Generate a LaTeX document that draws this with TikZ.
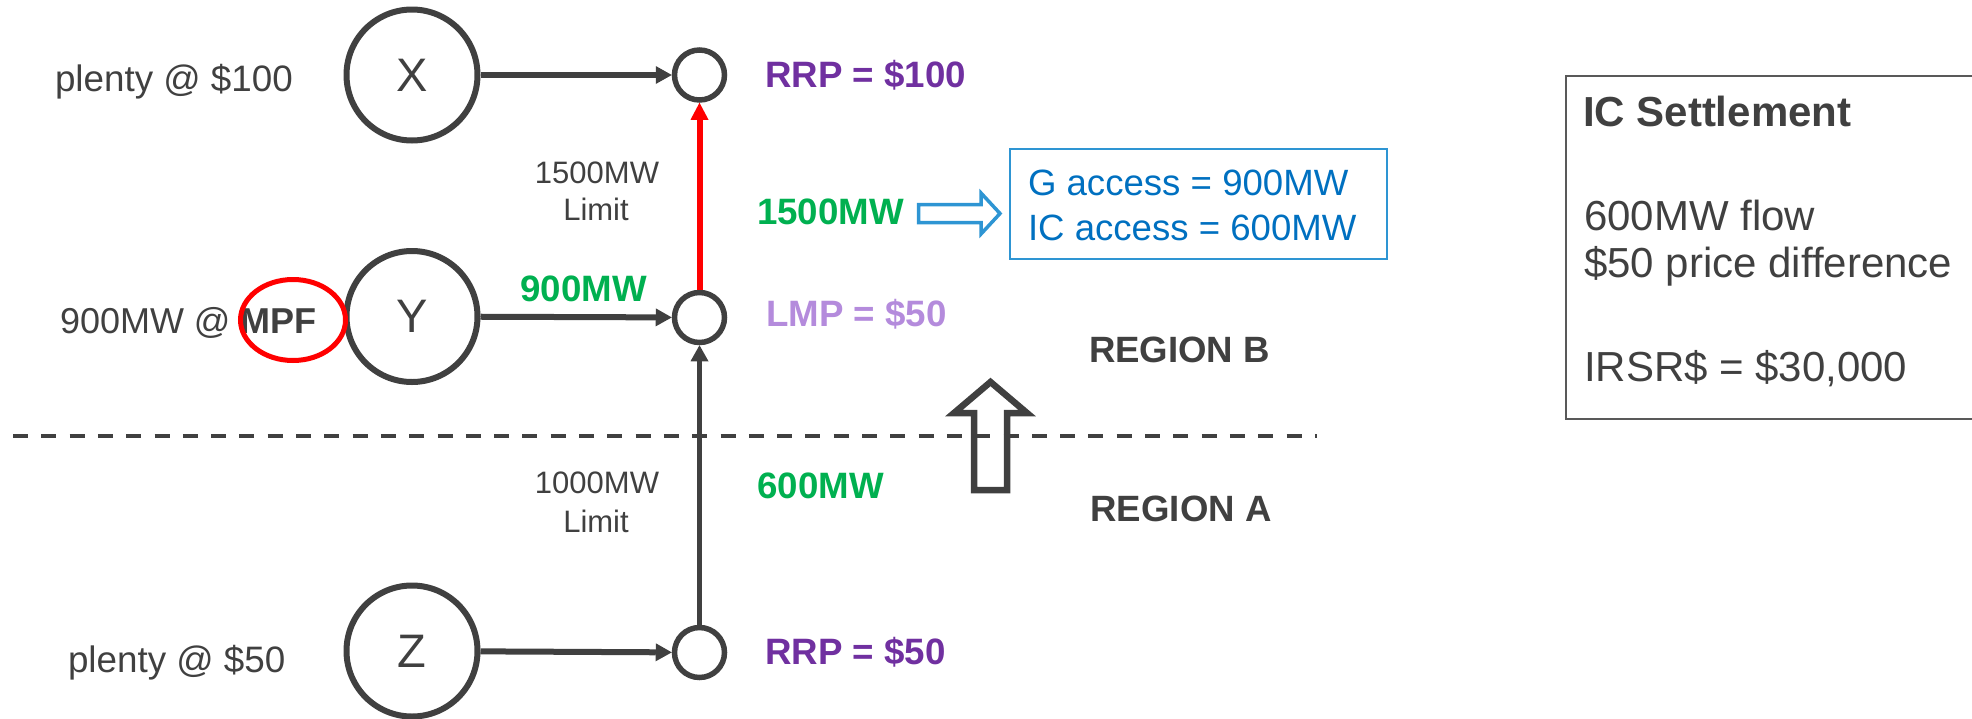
\documentclass[tikz,border=0pt]{standalone}
\usepackage{fontspec}
\setmainfont{Liberation Sans}
\usetikzlibrary{arrows.meta,shapes.geometric}
\definecolor{dkgray}{HTML}{404040}
\definecolor{flowgreen}{HTML}{00B050}
\definecolor{rrppurple}{HTML}{7030A0}
\definecolor{lmppurple}{HTML}{B48BDC}
\definecolor{txtblue}{HTML}{0070C0}
\definecolor{boxblue}{HTML}{2E95D3}
\definecolor{boxgray}{HTML}{595959}
\newcommand{\fsz}[1]{\fontsize{#1}{#1}\selectfont}
\begin{document}
\begin{tikzpicture}[x=1pt,y=-1pt,
  lbl/.style={inner sep=0pt, outer sep=0pt, text=dkgray},
  gen/.style={circle, draw=dkgray, line width=6pt, minimum size=131pt, inner sep=0pt, text=dkgray, font=\fsz{47}},
  bus/.style={circle, draw=dkgray, line width=5.5pt, minimum size=50pt, inner sep=0pt},
  flow/.style={draw=dkgray, line width=6pt, -{Triangle[length=16pt,width=18pt,line width=0pt]}},
  redflow/.style={draw=red, line width=6pt, -{Triangle[length=17pt,width=18pt,line width=0pt]}},
  price/.style={lbl, anchor=base west, font=\fsz{36.7}\bfseries},
  green/.style={lbl, anchor=base, text=flowgreen, font=\fsz{36.7}\bfseries},
  limit/.style={lbl, anchor=base, font=\fsz{31}},
  region/.style={lbl, anchor=base, font=\fsz{36.6}\bfseries},
  offer/.style={lbl, anchor=base west, font=\fsz{36.8}},
  acc/.style={lbl, anchor=base west, text=txtblue, font=\fsz{36.6}},
  settle/.style={lbl, anchor=base west, font=\fsz{42}}
]
\useasboundingbox (0,0) rectangle (1972,718);
\clip (0,0) rectangle (1972,718);

% region divider
\draw[dkgray, line width=4.5pt, dash pattern=on 15pt off 13.3pt] (13,436) -- (1317,436);

% generators
\node[gen] (X) at (412,75) {X};
\node[gen] (Y) at (412,316.5) {Y};
\node[gen] (Z) at (412,651) {Z};

% buses
\node[bus] (b1) at (699.5,75) {};
\node[bus] (b2) at (699.5,317.5) {};
\node[bus] (b3) at (699.5,652.5) {};

% flows
\draw[flow] (X) -- (b1);
\draw[flow] (Y) -- (b2);
\draw[flow] (Z) -- (b3);
\draw[redflow] (b2) -- (b1);
\draw[flow, line width=5pt] (b3) -- (b2);

% offers
\node[offer] (offX) at (55,91) {plenty @ \$100};
\node[offer, font=\fsz{36}] (offY) at (60,333) {900MW @ \textbf{MPF}};
\node[offer] (offZ) at (68,672.7) {plenty @ \$50};
\node[ellipse, draw=red, line width=5pt, minimum width=105pt, minimum height=81pt] (mpfring) at (293,320) {};

% prices
\node[price, text=rrppurple] (p1) at (765,87.3) {RRP = \$100};
\node[price, text=lmppurple] (p2) at (766,326) {LMP = \$50};
\node[price, text=rrppurple] (p3) at (765,664.3) {RRP = \$50};

% limits
\node[limit] (lim1a) at (597,183) {1500MW};
\node[limit] (lim1b) at (596,220.7) {Limit};
\node[limit] (lim2a) at (597,493.3) {1000MW};
\node[limit] (lim2b) at (596,532.7) {Limit};

% flow amounts
\node[green] (f900) at (583.5,301) {900MW};
\node[green] (f1500) at (830.5,224) {1500MW};
\node[green] (f600) at (820.5,498.3) {600MW};

% access box
\node[draw=boxblue, line width=2.2pt, minimum width=377pt, minimum height=110pt, inner sep=0pt] (accbox) at (1198.5,204) {};
\node[acc] (acc1) at (1028,195) {G access = 900MW};
\node[acc] (acc2) at (1028,240.7) {IC access = 600MW};
\draw[boxblue, line width=3.5pt, line join=miter]
  (918.5,204.5) -- (981,204.5) -- (981,193) -- (1000,213.5) -- (981,234) -- (981,222.5) -- (918.5,222.5) -- cycle;

% regions
\node[region] (regB) at (1179.5,362.3) {REGION B};
\node[region] (regA) at (1181,521.7) {REGION A};
\draw[dkgray, line width=6.5pt, line join=miter]
  (974,490) -- (1007,490) -- (1007,413) -- (1027,413) -- (990.5,382) -- (954,413) -- (974,413) -- cycle;

% settlement box
\node[draw=boxgray, line width=2.2pt, minimum width=420pt, minimum height=343pt, inner sep=0pt, anchor=north west] (icbox) at (1565,75) {};
\node[settle, font=\fsz{42}\bfseries] (ic1) at (1583,126.7) {IC Settlement};
\node[settle] (ic2) at (1584,230.7) {600MW flow};
\node[settle] (ic3) at (1584,277) {\$50 price difference};
\node[settle] (ic4) at (1584,381.7) {IRSR\$ = \$30,000};
\end{tikzpicture}
\end{document}
